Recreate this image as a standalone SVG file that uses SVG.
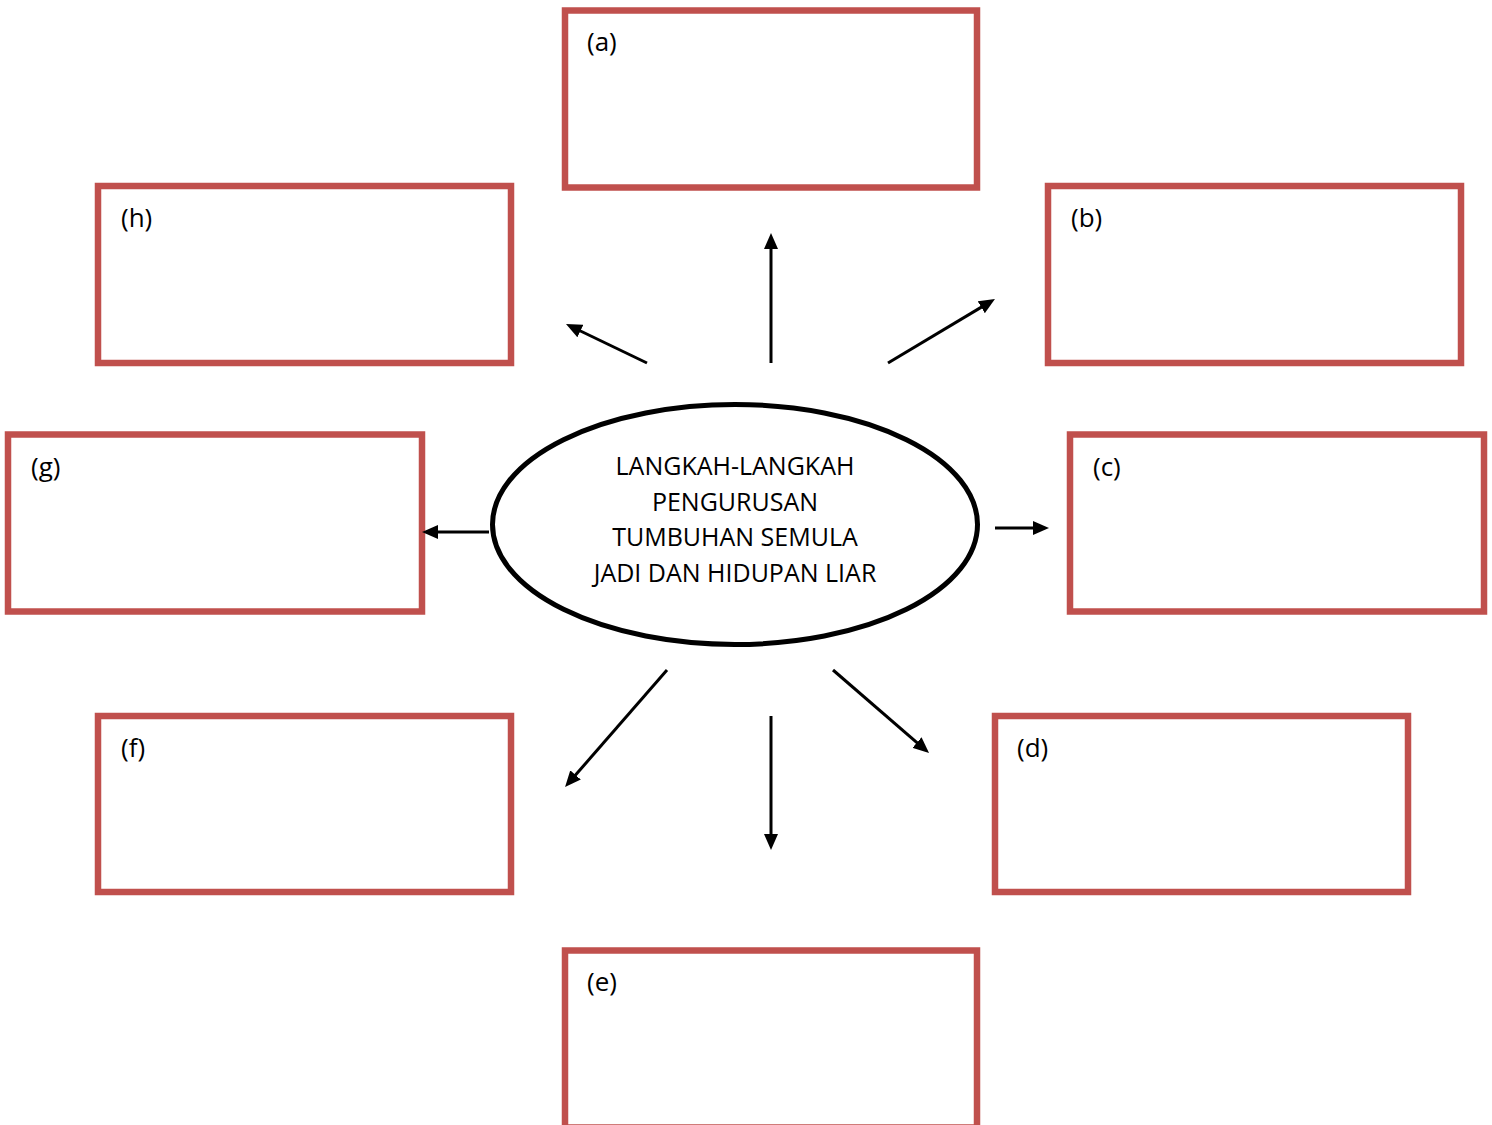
<svg xmlns="http://www.w3.org/2000/svg" width="1492" height="1125" viewBox="0 0 1492 1125">
<style>
.box{fill:#ffffff;stroke:#C0504D;stroke-width:6.5}
.lbl{font-family:"Open Sans","Liberation Sans",Arial,sans-serif;font-size:26px;fill:#000}
.ctr{font-family:"Open Sans","Liberation Sans",Arial,sans-serif;font-size:25px;fill:#000;text-anchor:middle}
.arr{stroke:#000;stroke-width:3;fill:none;marker-end:url(#ah)}
</style>
<defs>
<marker id="ah" markerUnits="userSpaceOnUse" markerWidth="16" markerHeight="14" refX="8" refY="7" orient="auto">
<path d="M0,0 L16,7 L0,14 z" fill="#000"/>
</marker>
</defs>
<rect width="1492" height="1125" fill="#ffffff"/>
<g id="node-a"><rect class="box" x="565" y="10.5" width="412" height="177"/><text class="lbl" x="587" y="51">(a)</text></g>
<g id="node-h"><rect class="box" x="98" y="186" width="413" height="177"/><text class="lbl" x="121" y="227">(h)</text></g>
<g id="node-b"><rect class="box" x="1048" y="186" width="413" height="177"/><text class="lbl" x="1071" y="227">(b)</text></g>
<g id="node-g"><rect class="box" x="8" y="434.5" width="414" height="177"/><text class="lbl" x="31" y="476">(g)</text></g>
<g id="node-c"><rect class="box" x="1070" y="434.5" width="414" height="177"/><text class="lbl" x="1093" y="476">(c)</text></g>
<g id="node-f"><rect class="box" x="98" y="716" width="413" height="176"/><text class="lbl" x="121" y="757">(f)</text></g>
<g id="node-d"><rect class="box" x="995" y="716" width="413" height="176"/><text class="lbl" x="1017" y="757">(d)</text></g>
<g id="node-e"><rect class="box" x="565" y="950.5" width="412" height="177"/><text class="lbl" x="587" y="991">(e)</text></g>
<g id="center">
<ellipse cx="735" cy="524.5" rx="242.5" ry="120" fill="#ffffff" stroke="#000" stroke-width="5"/>
<text class="ctr" x="735" y="475">LANGKAH-LANGKAH</text>
<text class="ctr" x="735" y="511">PENGURUSAN</text>
<text class="ctr" x="735" y="546">TUMBUHAN SEMULA</text>
<text class="ctr" x="735" y="582">JADI DAN HIDUPAN LIAR</text>
</g>
<g id="connectors">
<line class="arr" x1="771" y1="363" x2="771" y2="241"/>
<line class="arr" x1="647" y1="363" x2="573.2" y2="327.5"/>
<line class="arr" x1="888" y1="363" x2="988.1" y2="303.1"/>
<line class="arr" x1="489" y1="532" x2="430" y2="532"/>
<line class="arr" x1="995" y1="528" x2="1041" y2="528"/>
<line class="arr" x1="667" y1="670" x2="570.3" y2="781"/>
<line class="arr" x1="771" y1="716" x2="771" y2="842"/>
<line class="arr" x1="833" y1="670" x2="923" y2="747.8"/>
</g>
</svg>
